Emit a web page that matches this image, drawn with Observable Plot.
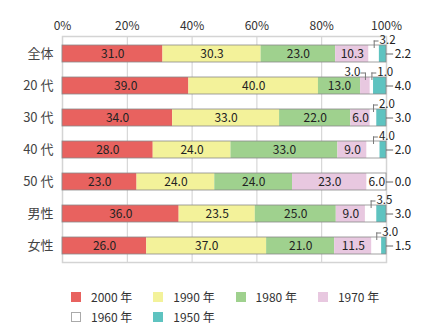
<!DOCTYPE html>
<html><head><meta charset="utf-8">
<script src="https://cdn.jsdelivr.net/npm/d3@7"></script>
<script src="https://cdn.jsdelivr.net/npm/@observablehq/plot@0.6"></script>
<style>
body{margin:0;background:#fff;font-family:"Noto Sans CJK JP",sans-serif;}
#wrap{position:relative;width:426px;height:327px;}
.li{position:absolute;display:flex;align-items:center;font-size:12px;color:#333;line-height:12px;}
.sw{width:10px;height:10px;margin-right:10px;box-sizing:border-box;}
</style></head><body><div id="wrap"></div>
<script>
const categories = ["全体", "20 代", "30 代", "40 代", "50 代", "男性", "女性"];
const series = ["2000 年", "1990 年", "1980 年", "1970 年", "1960 年", "1950 年"];
const colors = ["#e8625f", "#f3f29a", "#9fd18e", "#e8c8e0", "#ffffff", "#5ec3c0"];
const v2000 = [31.0, 39.0, 34.0, 28.0, 23.0, 36.0, 26.0];
const v1990 = [30.3, 40.0, 33.0, 24.0, 24.0, 23.5, 37.0];
const v1980 = [23.0, 13.0, 22.0, 33.0, 24.0, 25.0, 21.0];
const v1970 = [10.3, 3.0, 6.0, 9.0, 23.0, 9.0, 11.5];
const v1960 = [3.2, 1.0, 2.0, 4.0, 6.0, 3.5, 3.0];
const v1950 = [2.2, 4.0, 3.0, 2.0, 0.0, 3.0, 1.5];
const xTicks = [0, 20, 40, 60, 80, 100];

const values = [v2000, v1990, v1980, v1970, v1960, v1950];
const rows = [];
const totals = [];
categories.forEach((c, i) => {
  let acc = 0;
  series.forEach((s, j) => {
    const v = values[j][i];
    rows.push({cat: c, series: s, j, v, x1: acc, x2: acc + v, mid: acc + v / 2, label: v.toFixed(1)});
    acc += v;
  });
  totals.push({cat: c, total: acc});
});
const inside = rows.filter(r => r.j < 5 && r.v >= 5);
const rightOut = rows.filter(r => r.j === 5).map(r => ({...r, end: r.x2, tip: r.x2 + 2.2}));
const upRight = rows.filter(r => r.j === 4 && r.v < 5).map(r => ({...r, tip: r.mid + 1.5}));
const upLeft = rows.filter(r => r.j === 3 && r.v < 5).map(r => ({...r, tip: r.mid - 1.4}));
const leaders = [...upRight, ...upLeft];

const chart = Plot.plot({
  width: 426, height: 280,
  marginLeft: 62, marginRight: 40, marginTop: 36, marginBottom: 18,
  style: {fontFamily: '"Noto Sans CJK JP", sans-serif', fontSize: "12px", color: "#333", background: "white"},
  x: {domain: [0, 100], axis: null, label: null},
  y: {domain: categories, paddingInner: 0.47, paddingOuter: 0.235, axis: null, label: null},
  color: {domain: series, range: colors},
  marks: [
    Plot.ruleX(xTicks.slice(1, -1), {stroke: "#cfcfcf", strokeWidth: 1}),
    Plot.frame({stroke: "#d4d4d4", strokeWidth: 1.5}),
    Plot.axisX({anchor: "top", ticks: xTicks, tickFormat: d => d + "%", tickSize: 0, tickPadding: 7, fontSize: 12, fill: "#333", label: null}),
    Plot.axisY({tickSize: 0, tickPadding: 9, fontSize: 13, fill: "#444", label: null}),
    Plot.barX(rows, {x1: "x1", x2: "x2", y: "cat", fill: "series"}),
    Plot.barX(totals, {x: "total", y: "cat", fill: "none", stroke: "#8a8a8a", strokeWidth: 0.8}),
    Plot.text(inside, {x: "mid", y: "cat", text: "label", fill: "#222", fontSize: 12}),
    // right-side labels (1950)
    Plot.ruleY(rightOut, {x1: "end", x2: "tip", y: "cat", stroke: "#666", strokeWidth: 1}),
    Plot.text(rightOut, {x: "tip", y: "cat", text: "label", textAnchor: "start", dx: 1, fill: "#222", fontSize: 12}),
    // leader lines above bars
    Plot.tickX(leaders, {x: "mid", y: "cat", stroke: "#777", strokeWidth: 1, insetTop: -4.6, insetBottom: 14}),
    Plot.ruleY(leaders, {x1: "mid", x2: "tip", y: "cat", dy: -13, stroke: "#777", strokeWidth: 1}),
    Plot.text(upRight, {x: "tip", y: "cat", text: "label", textAnchor: "start", dx: 0.5, dy: -13.5, fill: "#222", fontSize: 11.5}),
    Plot.text(upLeft, {x: "tip", y: "cat", text: "label", textAnchor: "end", dx: -0.5, dy: -13.5, fill: "#222", fontSize: 11.5})
  ]
});
const wrap = document.getElementById("wrap");
wrap.appendChild(chart);

series.forEach((s, i) => {
  const item = document.createElement("div");
  item.className = "li";
  item.style.left = (71 + (i % 4) * 82.3) + "px";
  item.style.top = (291 + Math.floor(i / 4) * 19.5) + "px";
  const sw = document.createElement("div");
  sw.className = "sw";
  sw.style.background = colors[i];
  if (colors[i] === "#ffffff") sw.style.border = "1px solid #aaa";
  const t = document.createElement("span");
  t.textContent = s;
  item.appendChild(sw);
  item.appendChild(t);
  wrap.appendChild(item);
});
</script>
</body></html>
